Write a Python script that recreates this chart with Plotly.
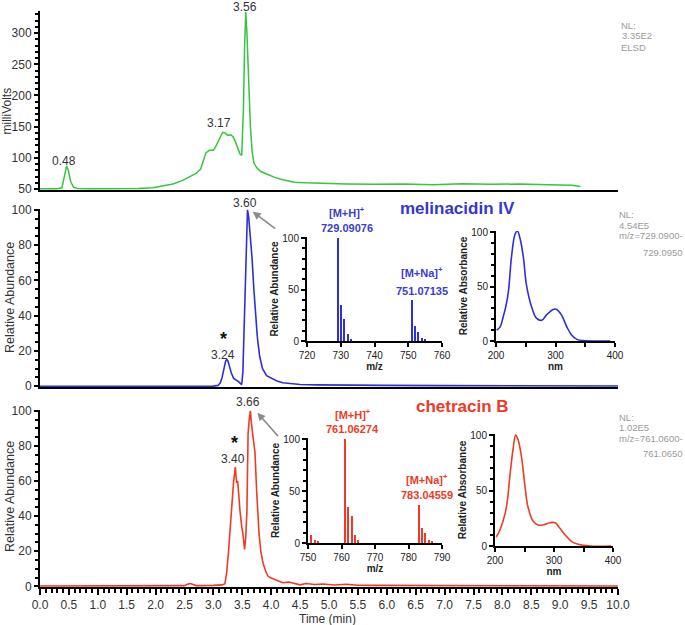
import plotly.graph_objects as go

W, H = 685, 625
FONT = "Liberation Sans, Arial, sans-serif"

# ---------------- data ----------------
elsd_t = [0.0, 0.3, 0.38, 0.42, 0.46, 0.49, 0.53, 0.58, 0.65, 0.9, 1.3, 1.7, 1.95, 2.15, 2.3, 2.45, 2.6, 2.7, 2.78, 2.83,
          2.87, 2.93, 3.0, 3.04, 3.08, 3.12, 3.16, 3.2, 3.25, 3.3, 3.34, 3.38, 3.42, 3.46, 3.49, 3.52, 3.54, 3.56, 3.58, 3.61,
          3.64, 3.67, 3.70, 3.75, 3.82, 3.92, 4.05, 4.2, 4.4, 4.6, 4.9, 5.3, 5.8, 6.3, 6.8, 7.3, 7.8, 8.3, 8.8, 9.05,
          9.2, 9.35]
elsd_v = [50.5, 50.5, 52, 70, 87, 80, 62, 53, 51, 50.5, 50.5, 51, 52, 55, 58, 63, 70, 75, 82, 96,
          108, 112, 112, 118, 126, 134, 141, 140, 136, 137, 134, 126, 115, 106, 104, 180, 280, 334, 300, 220,
          150, 110, 92, 84, 78, 74, 69, 65, 61, 60, 59, 58, 57.5, 58, 57, 58.5, 57.5, 58, 57, 57,
          56, 54]

mel_t = [0.0, 2.0, 3.0, 3.08, 3.12, 3.15, 3.18, 3.21, 3.23, 3.25, 3.28, 3.31, 3.35, 3.40, 3.44, 3.47, 3.49, 3.51, 3.53, 3.55,
         3.57, 3.59, 3.61, 3.64, 3.67, 3.70, 3.73, 3.76, 3.80, 3.85, 3.92, 4.0, 4.1, 4.2, 4.35, 4.5, 4.8, 5.2, 6.0, 7.0,
         8.0, 9.0, 10.0]
mel_v = [0.0, 0.0, 0.1, 0.5, 2, 5, 10, 14, 15.2, 14.5, 11, 7.5, 4.5, 3.5, 2.5, 1.5, 1.0, 8, 30, 62,
         88, 100, 96, 85, 72, 55, 40, 28, 17, 10, 6, 4.5, 3, 2, 1.5, 1.0, 0.8, 0.6, 0.5, 0.4,
         0.3, 0.3, 0.2]

chet_t = [0.0, 1.0, 2.0, 2.5, 2.55, 2.6, 2.65, 2.7, 3.0, 3.15, 3.2, 3.23, 3.26, 3.29, 3.32, 3.35, 3.38, 3.40,
          3.42, 3.44, 3.46, 3.49, 3.51, 3.54, 3.56, 3.58, 3.60, 3.62, 3.64, 3.66, 3.68, 3.70, 3.72, 3.75, 3.77, 3.79, 3.82, 3.86,
          3.90, 3.94, 3.98, 4.05, 4.12, 4.2, 4.3, 4.4, 4.5, 4.6, 4.75, 4.9, 5.1, 5.3, 5.5, 5.8, 6.2, 6.6, 7.0, 7.5,
          8.0, 8.5, 9.0, 9.5, 10.0]
chet_v = [0.2, 0.3, 0.3, 0.4, 1.2, 1.6, 1.0, 0.4, 0.5, 0.8, 1.5, 8, 19, 33, 47, 60, 68, 59,
          60, 50, 43, 34, 30, 21, 28, 43, 87, 95, 100, 92, 87, 82, 76, 53, 40, 30, 20, 13,
          9, 6, 5, 4, 3, 2, 2.4, 1.5, 0.8, 1.6, 1.0, 1.3, 0.7, 1.2, 0.6, 0.5, 0.5, 0.4, 0.4, 0.3,
          0.3, 0.3, 0.2, 0.2, 0.2]

mel_mz = [729.09, 730.09, 731.09, 732.09, 733.09, 751.07, 752.07, 753.07, 754.07, 755.07]
mel_int = [100, 35, 21, 6.7, 1.6, 40, 14.4, 9, 3, 1]

chet_mz = [751.0, 752.0, 753.0, 761.06, 762.06, 763.06, 764.06, 765.06, 783.05, 784.05, 785.05, 786.05, 787.05]
chet_int = [8, 2.5, 1.3, 100, 35, 26, 8, 2.5, 37, 14, 10, 3, 1]

mel_nm = [201, 207, 212, 217, 221, 226, 232, 236, 240, 246, 251, 260, 268, 277, 285, 296, 302, 310, 319, 327, 336, 347, 370, 392]
mel_abs = [10, 13, 22, 33, 46, 77, 98, 101, 95, 77, 52, 31, 21, 19, 24, 29, 29, 24, 13, 5.5, 1.5, 0.3, 0, 0]

chet_nm = [202, 208, 217, 221, 225, 231, 235, 239, 245, 251, 256, 265, 273, 282, 293, 302, 310, 319, 330, 341, 361, 397]
chet_abs = [8, 14, 29, 41, 62, 89, 100, 96, 80, 53, 35, 22, 19, 19, 21, 21, 16, 10, 4, 1.5, 0, 0]

time_ticks = [i * 0.5 for i in range(21)]

GREEN = "#35c63f"
BLUE = "#2f2fd8"
RED = "#ef3b26"
TXT = "#333333"


def px(x):
    return x / W


def py(y):
    return 1 - y / H


fig = go.Figure()
fig.add_trace(go.Scatter(x=elsd_t, y=elsd_v, mode="lines", line=dict(color=GREEN, width=1.5), xaxis="x3", yaxis="y3"))
fig.add_trace(go.Scatter(x=mel_t, y=mel_v, mode="lines", line=dict(color=BLUE, width=1.6), xaxis="x2", yaxis="y2"))
fig.add_trace(go.Scatter(x=chet_t, y=chet_v, mode="lines", line=dict(color=RED, width=1.6), xaxis="x", yaxis="y"))

fig.add_trace(go.Bar(x=mel_mz, y=mel_int, width=0.4, marker=dict(color=BLUE, line=dict(width=0)), xaxis="x4", yaxis="y4"))
fig.add_trace(go.Scatter(x=mel_nm, y=mel_abs, mode="lines", line=dict(color=BLUE, width=1.6, shape="spline"), xaxis="x5", yaxis="y5"))
fig.add_trace(go.Bar(x=chet_mz, y=chet_int, width=0.4, marker=dict(color=RED, line=dict(width=0)), xaxis="x6", yaxis="y6"))
fig.add_trace(go.Scatter(x=chet_nm, y=chet_abs, mode="lines", line=dict(color=RED, width=1.6, shape="spline"), xaxis="x7", yaxis="y7"))

main_dom = [px(40), px(618)]
tickfont_main = dict(family=FONT, size=12, color=TXT)
tickfont_in = dict(family=FONT, size=10, color="#222222")

common_x = dict(domain=main_dom, range=[0, 10], showline=True, linecolor="black", linewidth=2,
                showgrid=False, zeroline=False, fixedrange=True, automargin=False)

layout_axes = dict(
    xaxis=dict(**common_x, anchor="y", ticks="outside", tickvals=time_ticks, tickformat=".1f",
               ticklen=6, tickwidth=2, tickcolor="black", tickfont=tickfont_main,
               minor=dict(dtick=0.1, ticks="outside", ticklen=4, tickwidth=2, tickcolor="black", showgrid=False)),
    xaxis2=dict(**common_x, anchor="y2", showticklabels=False, ticks=""),
    xaxis3=dict(**common_x, anchor="y3", showticklabels=False, ticks=""),
)

common_y = dict(showline=True, linecolor="black", linewidth=2, showgrid=False, zeroline=False,
                ticks="outside", ticklen=4, tickwidth=2, tickcolor="black", tickfont=tickfont_main,
                fixedrange=True, automargin=False)

layout_axes["yaxis"] = dict(**common_y, domain=[py(587), py(410)], range=[-0.4, 100.5], anchor="x",
                            tickvals=[0, 20, 40, 60, 80, 100],
                            minor=dict(dtick=5, ticks="outside", ticklen=3, tickwidth=2, tickcolor="black"))
layout_axes["yaxis2"] = dict(**common_y, domain=[py(387), py(209)], range=[-0.4, 100.5], anchor="x2",
                             tickvals=[0, 20, 40, 60, 80, 100],
                             minor=dict(dtick=5, ticks="outside", ticklen=3, tickwidth=2, tickcolor="black"))
layout_axes["yaxis3"] = dict(**common_y, domain=[py(190), py(11)], range=[48.4, 335.5], anchor="x3",
                             tickvals=[50, 100, 150, 200, 250, 300],
                             minor=dict(dtick=10, ticks="outside", ticklen=3, tickwidth=2, tickcolor="black"))

in_x = dict(showline=True, linecolor="black", linewidth=2, showgrid=False, zeroline=False, automargin=False,
            ticks="outside", ticklen=4, tickwidth=1.5, tickcolor="black", tickfont=tickfont_in, fixedrange=True)
in_y = dict(showline=True, linecolor="black", linewidth=2, showgrid=False, zeroline=False, automargin=False,
            ticks="outside", ticklen=4, tickwidth=1.5, tickcolor="black", tickfont=tickfont_in, fixedrange=True,
            range=[0, 101], tickvals=[0, 50, 100],
            minor=dict(dtick=10, ticks="outside", ticklen=3, tickwidth=1.5, tickcolor="black"))
tfont_in = dict(family=FONT, size=10, color="#222222")

layout_axes["xaxis4"] = dict(**in_x, domain=[px(307), px(442)], range=[720, 760], dtick=10, anchor="y4",
                             title=dict(text="<b>m/z</b>", font=tfont_in, standoff=2))
layout_axes["yaxis4"] = dict(**in_y, domain=[py(341), py(237)], anchor="x4",
                             title=dict(text="<b>Relative Abundance</b>", font=tfont_in, standoff=2))
layout_axes["xaxis5"] = dict(**in_x, domain=[px(496), px(615)], range=[200, 400], tickvals=[200, 300, 400], anchor="y5",
                             minor=dict(dtick=50, ticks="outside", ticklen=4, tickwidth=1.5, tickcolor="black"),
                             title=dict(text="<b>nm</b>", font=tfont_in, standoff=2))
layout_axes["yaxis5"] = dict(**in_y, domain=[py(341), py(231)], anchor="x5",
                             title=dict(text="<b>Relative Absorbance</b>", font=tfont_in, standoff=2))
layout_axes["xaxis6"] = dict(**in_x, domain=[px(308), px(442)], range=[750, 790], dtick=10, anchor="y6",
                             title=dict(text="<b>m/z</b>", font=tfont_in, standoff=2))
layout_axes["yaxis6"] = dict(**in_y, domain=[py(543), py(438)], anchor="x6",
                             title=dict(text="<b>Relative Abundance</b>", font=tfont_in, standoff=2))
layout_axes["xaxis7"] = dict(**in_x, domain=[px(495), px(613)], range=[200, 400], tickvals=[200, 300, 400], anchor="y7",
                             minor=dict(dtick=50, ticks="outside", ticklen=4, tickwidth=1.5, tickcolor="black"),
                             title=dict(text="<b>nm</b>", font=tfont_in, standoff=2))
layout_axes["yaxis7"] = dict(**in_y, domain=[py(546), py(434)], anchor="x7",
                             title=dict(text="<b>Relative Absorbance</b>", font=tfont_in, standoff=2))

ann = []


def label(text, xref, x, ypix, size=12, color=TXT, xanchor="center", angle=0):
    ann.append(dict(text=text, xref=xref, x=x, yref="paper", y=py(ypix), showarrow=False, textangle=angle,
                    xanchor=xanchor, yanchor="middle", font=dict(family=FONT, size=size, color=color)))


# axis titles of the chromatograms
label("milliVolts", "paper", px(6.5), 111, size=12, angle=-90)
label("Relative Abundance", "paper", px(10), 298, size=12.5, angle=-90)
label("Relative Abundance", "paper", px(10), 497, size=12.5, angle=-90)
label("Time (min)", "paper", px(327), 618.5, size=12)

# peak labels
label("0.48", "x3", 0.42, 161)
label("3.17", "x3", 3.10, 123)
label("3.56", "x3", 3.55, 7)
label("3.60", "x2", 3.55, 203)
label("<b>*</b>", "x2", 3.18, 339, size=18, color="#111111")
label("3.24", "x2", 3.17, 355)
label("3.66", "x", 3.60, 402)
label("<b>*</b>", "x", 3.36, 443, size=18, color="#111111")
label("3.40", "x", 3.34, 459)

# compound titles
label("<b>melinacidin IV</b>", "paper", px(457), 208, size=17, color="#3535cf")
label("<b>chetracin B</b>", "paper", px(462), 406, size=17, color="#ee3a24")

# MS labels
label("<b>[M+H]<sup>+</sup></b>", "paper", px(347), 212, size=11, color="#3a3ad6")
label("<b>729.09076</b>", "paper", px(347), 228, size=11, color="#3a3ad6")
label("<b>[M+Na]<sup>+</sup></b>", "paper", px(422), 272, size=11, color="#3a3ad6")
label("<b>751.07135</b>", "paper", px(422), 291, size=11, color="#3a3ad6")
label("<b>[M+H]<sup>+</sup></b>", "paper", px(353), 414, size=11, color="#ee3a24")
label("<b>761.06274</b>", "paper", px(353), 429, size=11, color="#ee3a24")
label("<b>[M+Na]<sup>+</sup></b>", "paper", px(427), 479, size=11, color="#ee3a24")
label("<b>783.04559</b>", "paper", px(427), 495, size=11, color="#ee3a24")

# NL texts
GREY = "#9a9a9a"
NLS = 9.5
label("NL:", "paper", px(619), 25, size=NLS, color=GREY, xanchor="left")
label("3.35E2", "paper", px(620), 36, size=NLS, color=GREY, xanchor="left")
label("ELSD", "paper", px(619), 47, size=NLS, color=GREY, xanchor="left")
label("NL:", "paper", px(617), 215, size=NLS, color=GREY, xanchor="left")
label("4.54E5", "paper", px(617), 225, size=NLS, color=GREY, xanchor="left")
label("m/z=729.0900-", "paper", px(617), 236, size=NLS, color=GREY, xanchor="left")
label("729.0950", "paper", px(641), 252, size=NLS, color=GREY, xanchor="left")
label("NL:", "paper", px(617), 417, size=NLS, color=GREY, xanchor="left")
label("1.02E5", "paper", px(617), 427, size=NLS, color=GREY, xanchor="left")
label("m/z=761.0600-", "paper", px(617), 438, size=NLS, color=GREY, xanchor="left")
label("761.0650", "paper", px(641), 453, size=NLS, color=GREY, xanchor="left")

# arrows
ann.append(dict(text="", xref="x2", yref="y2", x=3.68, y=99, ax=24, ay=18, showarrow=True,
                arrowhead=2, arrowsize=1, arrowwidth=1.6, arrowcolor="#8c8c8c"))
ann.append(dict(text="", xref="x", yref="y", x=3.76, y=99, ax=22, ay=25, showarrow=True,
                arrowhead=2, arrowsize=1, arrowwidth=1.6, arrowcolor="#8c8c8c"))

fig.update_layout(
    width=W, height=H, margin=dict(l=0, r=0, t=0, b=0),
    paper_bgcolor="white", plot_bgcolor="rgba(0,0,0,0)",
    showlegend=False, bargap=0,
    font=dict(family=FONT, size=12, color=TXT),
    annotations=ann,
    **layout_axes,
)

# remove the browser's default body margin so the figure fills the window exactly
fig.write_html("out.html", config={"displayModeBar": False},
               post_script="document.body.style.margin='0';document.body.style.padding='0';")
